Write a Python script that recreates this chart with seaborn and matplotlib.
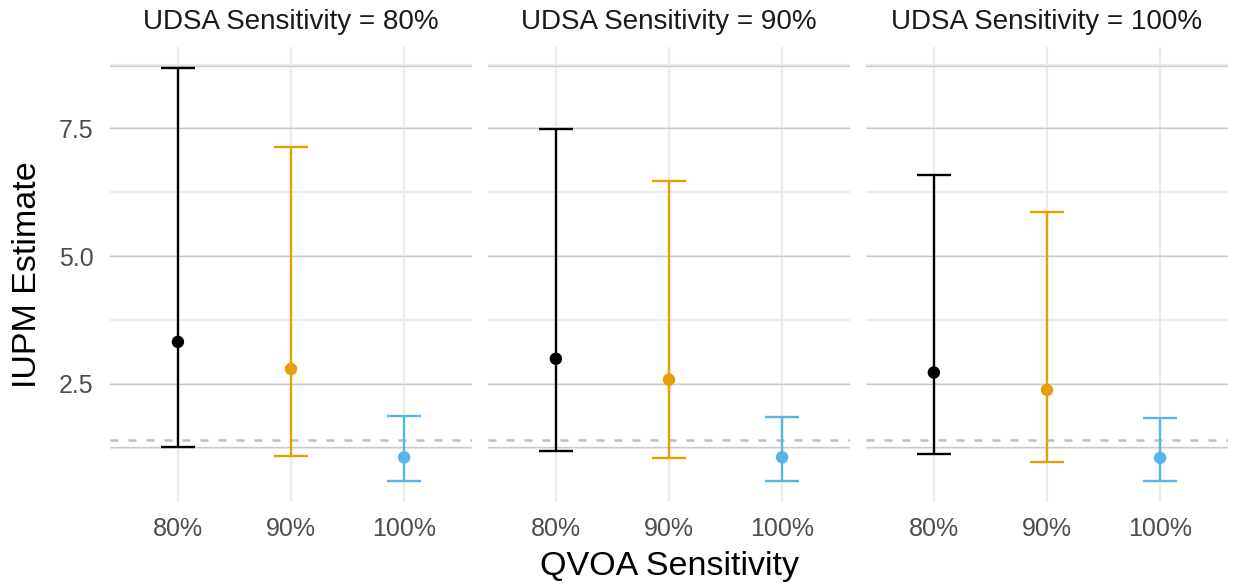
import pandas as pd
import matplotlib.pyplot as plt
import seaborn as sns
from matplotlib.ticker import MultipleLocator

# --- Data ---
udsa_levels = ['80%', '90%', '100%']
qvoa_levels = ['80%', '90%', '100%']
estimate = [[3.32, 2.79, 1.06], [2.99, 2.58, 1.06], [2.72, 2.38, 1.05]]
lower_ci = [[1.27, 1.09, 0.60], [1.19, 1.04, 0.60], [1.13, 0.96, 0.59]]
upper_ci = [[8.69, 7.14, 1.86], [7.49, 6.46, 1.85], [6.58, 5.87, 1.83]]
reference_iupm = 1.40
dark_lines = [1.26, 2.5, 5.0, 7.5, 8.72]
y_ticks = [2.5, 5.0, 7.5]

colors = {'80%': '#000000', '90%': '#E69F00', '100%': '#56B4E9'}

rows = []
for i, u in enumerate(udsa_levels):
    for j, q in enumerate(qvoa_levels):
        rows.append({'udsa': u, 'qvoa': q, 'est': estimate[i][j],
                     'lo': lower_ci[i][j], 'hi': upper_ci[i][j]})
df = pd.DataFrame(rows)

sns.set_theme(style='white')
plt.rcParams['font.family'] = ['Liberation Sans', 'DejaVu Sans']

fig, axes = plt.subplots(1, 3, figsize=(12.35, 5.86), dpi=100, sharey=True)
fig.subplots_adjust(left=0.0891, right=0.9943, top=0.92, bottom=0.1433, wspace=0.0442)

lo_all, hi_all = df['lo'].min(), df['hi'].max()
pad = 0.05 * (hi_all - lo_all)

for ax, u in zip(axes, udsa_levels):
    d = df[df['udsa'] == u]
    ax.set_axisbelow(True)
    ax.yaxis.set_major_locator(MultipleLocator(2.5))
    ax.yaxis.set_minor_locator(MultipleLocator(1.25))
    ax.grid(True, which='both', axis='y', color='#EBEBEB', lw=1.6)
    ax.grid(True, axis='x', color='#EBEBEB', lw=1.6)
    for yv in dark_lines:
        ax.axhline(yv, color='#CACACA', lw=0.9, zorder=0.8)
    ax.axhline(reference_iupm, color='#BEBEBE', lw=1.8, ls=(0, (3.2, 4)), zorder=1)

    for _, r in d.iterrows():
        ax.errorbar(r['qvoa'], r['est'],
                    yerr=[[r['est'] - r['lo']], [r['hi'] - r['est']]],
                    fmt='none', ecolor=colors[r['qvoa']], elinewidth=1.7,
                    capsize=12.2, capthick=1.7, zorder=2)
    sns.scatterplot(data=d, x='qvoa', y='est', hue='qvoa', palette=colors,
                    s=80, edgecolor='none', legend=False, ax=ax, zorder=3)

    ax.set_xlim(-0.6, 2.6)
    ax.set_ylim(lo_all - pad, hi_all + pad)
    ax.set_yticks(y_ticks)
    ax.set_yticklabels(['2.5', '5.0', '7.5'])
    ax.set_xlabel('')
    ax.set_ylabel('')
    ax.tick_params(axis='both', length=0, labelsize=18, colors='#4D4D4D')
    ax.tick_params(axis='x', pad=11)
    ax.tick_params(axis='y', pad=12)
    for s in ax.spines.values():
        s.set_visible(False)
    ax.set_title(f'UDSA Sensitivity = {u}', fontsize=20, color='#1A1A1A', pad=13)

fig.text(669 / 1235, 1 - 566 / 586, 'QVOA Sensitivity', ha='center', va='center',
         fontsize=24.5, color='black')
fig.text(28 / 1235, 1 - 275 / 586, 'IUPM Estimate', ha='center', va='center',
         rotation=90, fontsize=24.5, color='black')

plt.savefig('out.png', dpi=100)
